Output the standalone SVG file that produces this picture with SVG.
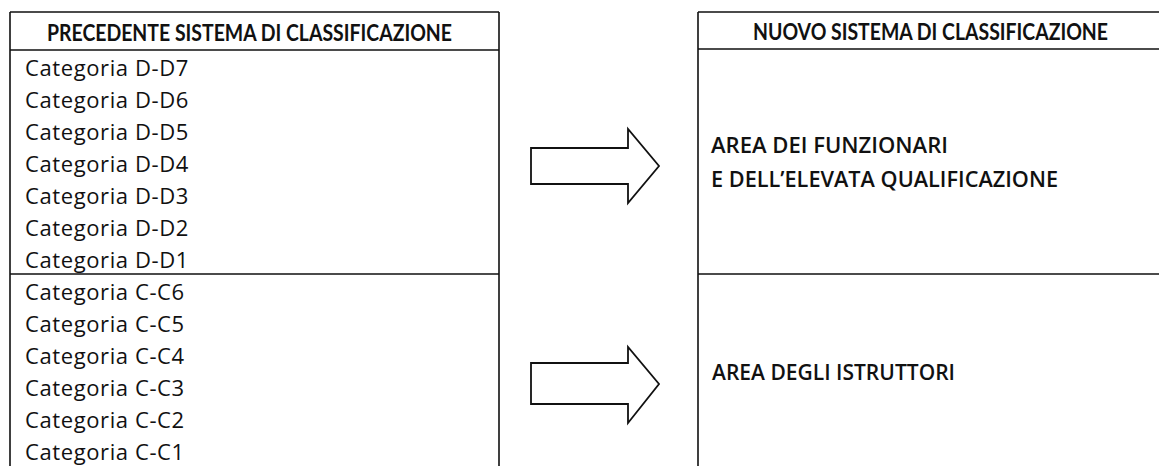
<svg xmlns="http://www.w3.org/2000/svg" width="1159" height="466" viewBox="0 0 1159 466">
<style>
.ln{stroke:#111;stroke-width:1.6;fill:none}
.hd{font-family:Lato,"Open Sans","Liberation Sans",sans-serif;font-weight:bold;font-size:23px;fill:#111}
.it{font-family:"Open Sans","Liberation Sans",sans-serif;font-size:22px;fill:#111;letter-spacing:0.6px}
.ar{font-family:"Open Sans","Liberation Sans",sans-serif;font-weight:600;font-size:22px;fill:#111}
.arw{fill:#fff;stroke:#111;stroke-width:1.8;stroke-linejoin:miter}
</style>
<rect width="1159" height="466" fill="#fff"/>
<g id="old-system">
<path class="ln" d="M10 12H499M10 50H499M10 12V466M499 12V466M10 274H499"/>
<text class="hd" x="47" y="41" textLength="405" lengthAdjust="spacingAndGlyphs">PRECEDENTE SISTEMA DI CLASSIFICAZIONE</text>
<g id="cat-d">
<text class="it" x="25" y="76">Categoria D-D7</text>
<text class="it" x="25" y="108">Categoria D-D6</text>
<text class="it" x="25" y="140">Categoria D-D5</text>
<text class="it" x="25" y="172">Categoria D-D4</text>
<text class="it" x="25" y="204">Categoria D-D3</text>
<text class="it" x="25" y="236">Categoria D-D2</text>
<text class="it" x="25" y="268">Categoria D-D1</text>
</g>
<g id="cat-c">
<text class="it" x="25" y="300">Categoria C-C6</text>
<text class="it" x="25" y="332">Categoria C-C5</text>
<text class="it" x="25" y="364">Categoria C-C4</text>
<text class="it" x="25" y="396">Categoria C-C3</text>
<text class="it" x="25" y="428">Categoria C-C2</text>
<text class="it" x="25" y="460">Categoria C-C1</text>
</g>
</g>
<g id="new-system">
<path class="ln" d="M698 12H1159M698 49H1159M698 12V466M698 274H1159"/>
<text class="hd" x="753" y="40" textLength="355" lengthAdjust="spacingAndGlyphs">NUOVO SISTEMA DI CLASSIFICAZIONE</text>
<g id="area-funzionari">
<text class="ar" x="711" y="153" textLength="237" lengthAdjust="spacingAndGlyphs">AREA DEI FUNZIONARI</text>
<text class="ar" x="711" y="187" textLength="347" lengthAdjust="spacingAndGlyphs">E DELL’ELEVATA QUALIFICAZIONE</text>
</g>
<g id="area-istruttori">
<text class="ar" x="712" y="380" textLength="243" lengthAdjust="spacingAndGlyphs">AREA DEGLI ISTRUTTORI</text>
</g>
</g>
<g id="connectors">
<polygon class="arw" points="531,148 628,148 628,129 659,166 628,203 628,184 531,184"/>
<polygon class="arw" points="531,363 628,363 628,347 659,384 628,423 628,404 531,404"/>
</g>
</svg>
